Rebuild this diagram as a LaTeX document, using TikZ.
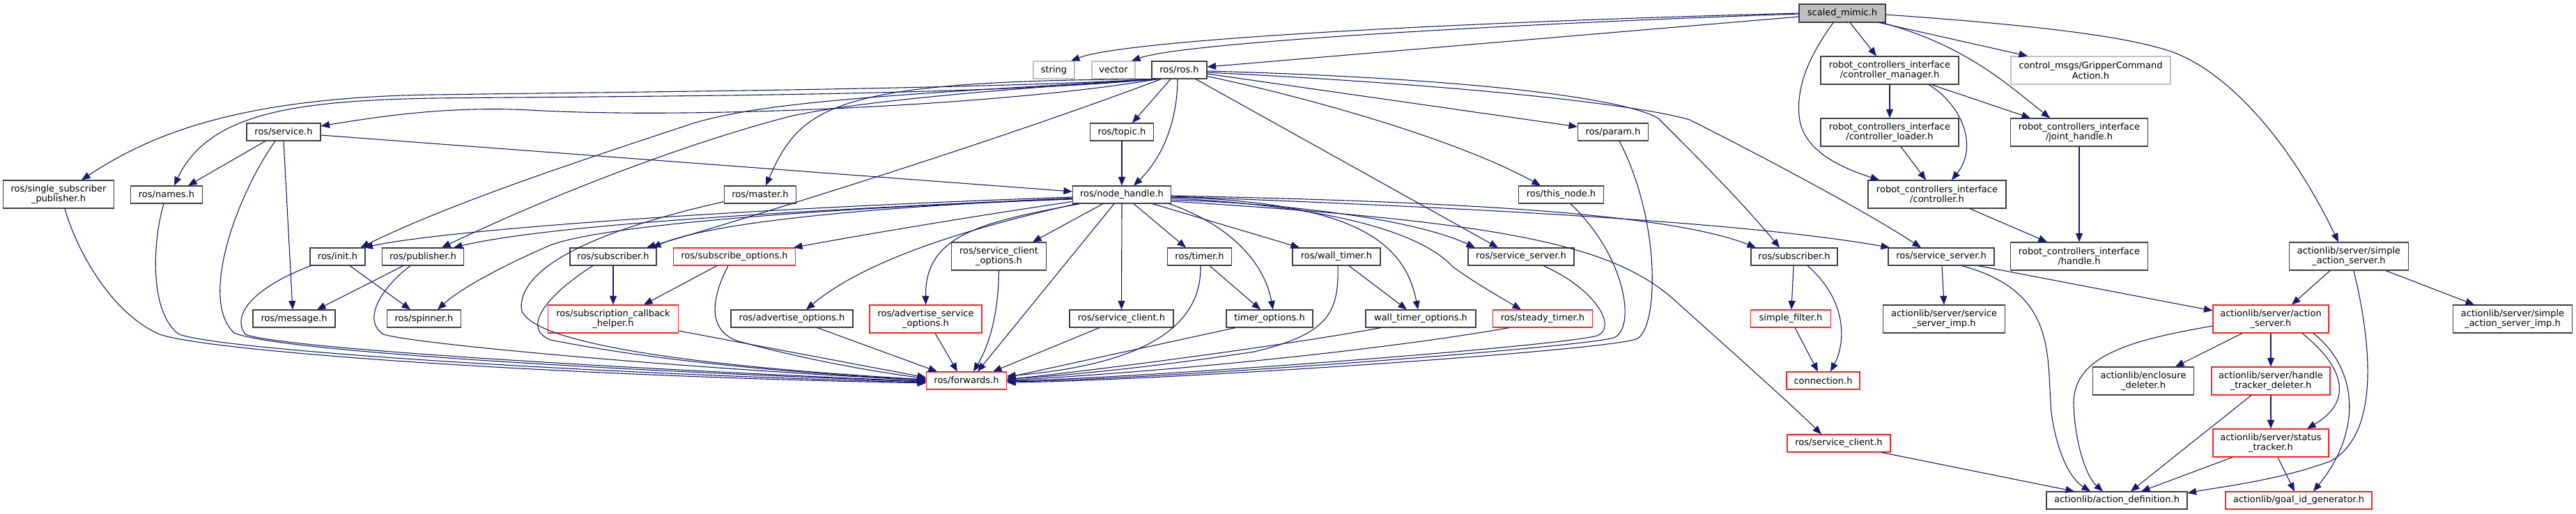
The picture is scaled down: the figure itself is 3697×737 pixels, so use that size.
\documentclass[tikz,border=0pt]{standalone}
\usepackage{fontspec}
\setmainfont{DejaVu Sans}
\usetikzlibrary{arrows.meta}
\definecolor{mblue}{HTML}{191970}
\definecolor{ngray}{HTML}{BFBFBF}
\definecolor{nborder}{HTML}{404040}
\definecolor{nred}{HTML}{FF2020}
\begin{document}
\begin{tikzpicture}[x=1pt,y=-1pt,
  box/.style={draw=nborder,line width=1.1pt,fill=white,inner sep=0pt,align=center,font=\fontsize{13}{14.5}\selectfont},
  redbox/.style={box,draw=nred},
  graybox/.style={box,draw=ngray},
  rootbox/.style={box,fill=ngray},
  sz/.style 2 args={minimum width=#1pt,minimum height=#2pt},
  edg/.style={draw=mblue,line width=1.1pt,-{Triangle[length=12.5pt,width=10pt]}}]
\useasboundingbox (0,0) rectangle (3697,737);
% nodes
\node[rootbox,sz={124}{26}] (sm) at (2644,19) {scaled\_mimic.h};
\node[graybox,sz={59}{25}] (str) at (1512.5,100.5) {string};
\node[graybox,sz={62}{25}] (vec) at (1598,100.5) {vector};
\node[box,sz={79}{25}] (ros) at (1692.5,100.5) {ros/ros.h};
\node[box,sz={198}{40}] (cm) at (2712,101) {robot\_controllers\_interface\\/controller\_manager.h};
\node[graybox,sz={229}{40}] (grip) at (3000.5,101) {control\_msgs/GripperCommand\\Action.h};
\node[box,sz={198}{40}] (cl) at (2712,190) {robot\_controllers\_interface\\/controller\_loader.h};
\node[box,sz={197}{40}] (jh) at (2984,190) {robot\_controllers\_interface\\/joint\_handle.h};
\node[box,sz={198}{40}] (ctrl) at (2780,279) {robot\_controllers\_interface\\/controller.h};
\node[box,sz={197}{40}] (hdl) at (2984,368) {robot\_controllers\_interface\\/handle.h};
\node[box,sz={106}{25}] (srv) at (407,189.5) {ros/service.h};
\node[box,sz={91}{25}] (topic) at (1610,189.5) {ros/topic.h};
\node[box,sz={101}{25}] (param) at (2315,189.5) {ros/param.h};
\node[box,sz={159}{40}] (ssp) at (84,279) {ros/single\_subscriber\\\_publisher.h};
\node[box,sz={103}{25}] (names) at (239,279.5) {ros/names.h};
\node[box,sz={103}{25}] (master) at (1091,279.5) {ros/master.h};
\node[box,sz={141}{25}] (nh) at (1610,279.5) {ros/node\_handle.h};
\node[box,sz={122}{25}] (this) at (2240.5,279.5) {ros/this\_node.h};
\node[box,sz={79}{25}] (init) at (484.5,368.5) {ros/init.h};
\node[box,sz={117}{25}] (pub) at (607,368.5) {ros/publisher.h};
\node[box,sz={124}{25}] (subL) at (880,368.5) {ros/subscriber.h};
\node[redbox,sz={175}{25}] (subopt) at (1054,368.5) {ros/subscribe\_options.h};
\node[box,sz={136}{40}] (sco) at (1433.5,368) {ros/service\_client\\\_options.h};
\node[box,sz={92}{25}] (timer) at (1721.5,368.5) {ros/timer.h};
\node[box,sz={126}{25}] (wt) at (1918,368.5) {ros/wall\_timer.h};
\node[box,sz={152}{25}] (ssL) at (2183,368.5) {ros/service\_server.h};
\node[box,sz={124}{25}] (subR) at (2575,368.5) {ros/subscriber.h};
\node[box,sz={152}{25}] (ssR) at (2786,368.5) {ros/service\_server.h};
\node[box,sz={171}{40}] (sas) at (3371,368) {actionlib/server/simple\\\_action\_server.h};
\node[box,sz={118}{25}] (msg) at (422,457.5) {ros/message.h};
\node[box,sz={106}{25}] (spin) at (608.5,457.5) {ros/spinner.h};
\node[redbox,sz={187}{40}] (cbh) at (880,458) {ros/subscription\_callback\\\_helper.h};
\node[box,sz={175}{25}] (advo) at (1136.5,457.5) {ros/advertise\_options.h};
\node[redbox,sz={161}{40}] (adso) at (1328.5,458) {ros/advertise\_service\\\_options.h};
\node[box,sz={149}{25}] (scl) at (1609.5,457.5) {ros/service\_client.h};
\node[box,sz={124}{25}] (tmo) at (1822,457.5) {timer\_options.h};
\node[box,sz={158}{25}] (wto) at (2039,457.5) {wall\_timer\_options.h};
\node[redbox,sz={143}{25}] (st) at (2214,457.5) {ros/steady\_timer.h};
\node[redbox,sz={115}{25}] (sf) at (2570,457.5) {simple\_filter.h};
\node[box,sz={175}{40}] (ssi) at (2790,458) {actionlib/server/service\\\_server\_imp.h};
\node[redbox,sz={166}{40}] (as) at (3259,458) {actionlib/server/action\\\_server.h};
\node[box,sz={171}{40}] (sasi) at (3606,458) {actionlib/server/simple\\\_action\_server\_imp.h};
\node[redbox,sz={115}{25}] (fwd) at (1387,546.5) {ros/forwards.h};
\node[redbox,sz={105}{25}] (conn) at (2616.5,546.5) {connection.h};
\node[box,sz={145}{40}] (ed) at (3076,547) {actionlib/enclosure\\\_deleter.h};
\node[redbox,sz={170}{40}] (htd) at (3259,547) {actionlib/server/handle\\\_tracker\_deleter.h};
\node[redbox,sz={148}{25}] (sclr) at (2639,636.5) {ros/service\_client.h};
\node[redbox,sz={166}{40}] (stt) at (3259,636) {actionlib/server/status\\\_tracker.h};
\node[box,sz={202}{25}] (ad) at (3038,718.5) {actionlib/action\_definition.h};
\node[redbox,sz={210}{25}] (gid) at (3299,718.5) {actionlib/goal\_id\_generator.h};
% edges from scaled_mimic.h
\draw[edg] (sm.west) .. controls (2150,30) and (1620,55) .. ([xshift=24.5pt]str.north);
\draw[edg] ([yshift=-1pt]sm.west) .. controls (2200,33) and (1700,60) .. ([xshift=26pt]vec.north);
\draw[edg] ([yshift=-5pt]sm.west) -- ([yshift=4.5pt]ros.east);
\draw[edg] ([xshift=11pt]sm.south) -- ([xshift=-19pt]cm.north);
\draw[edg] ([xshift=-13pt]sm.south) .. controls (2600,75) and (2578,120) .. (2582,165) .. controls (2585,215) and (2640,240) .. ([xshift=-83pt]ctrl.north);
\draw[edg] ([xshift=53pt]sm.south) -- ([xshift=-90.5pt]grip.north);
\draw[edg] ([xshift=57pt]sm.south) .. controls (2820,65) and (2880,120) .. ([xshift=-42pt]jh.north);
\draw[edg] ([yshift=-2pt]sm.east) .. controls (2950,38) and (3060,55) .. (3116,74) .. controls (3190,100) and (3280,190) .. ([xshift=-15pt]sas.north);
% robot_controllers_interface
\draw[edg] (cm.south) -- (cl.north);
\draw[edg] ([xshift=56pt]cm.south) .. controls (2815,150) and (2840,210) .. ([xshift=21pt]ctrl.north);
\draw[edg] ([xshift=60pt]cm.south) -- ([xshift=-70pt]jh.north);
\draw[edg] ([xshift=16pt]cl.south) -- ([xshift=-16pt]ctrl.north);
\draw[edg] ([xshift=47pt]ctrl.south) -- ([xshift=-46pt]hdl.north);
\draw[edg] (jh.south) -- (hdl.north);
% ros/ros.h
\draw[edg] ([xshift=-34pt]ros.south) .. controls (1400,128) and (900,132) .. (620,136) .. controls (350,140) and (220,190) .. ([xshift=33pt]ssp.north);
\draw[edg] ([xshift=-33pt]ros.south) .. controls (1400,138) and (900,138) .. (620,141) .. controls (430,145) and (300,160) .. ([xshift=11pt]names.north);
\draw[edg] ([xshift=-31pt]ros.south) .. controls (1450,150) and (1000,172) .. (760,158) .. controls (640,152) and (540,168) .. ([yshift=8.5pt]srv.east);
\draw[edg] ([xshift=-30pt]ros.south) .. controls (1300,135) and (1100,145) .. (995,177) .. controls (850,225) and (650,290) .. ([xshift=33pt]init.north);
\draw[edg] ([xshift=-29pt]ros.south) .. controls (1400,130) and (1220,148) .. (1134,167) .. controls (950,215) and (750,300) .. ([xshift=27pt]pub.north);
\draw[edg] ([xshift=-28pt]ros.south) .. controls (1200,115) and (1150,150) .. ([xshift=8pt]master.north);
\draw[edg] ([xshift=-26pt]ros.south) .. controls (1450,195) and (1150,290) .. ([xshift=48pt]subL.north);
\draw[edg] ([xshift=-12.5pt]ros.south) -- ([xshift=15pt]topic.north);
\draw[edg] (topic.south) -- (nh.north);
\draw[edg] ([xshift=-2.5pt]ros.south) .. controls (1690,170) and (1670,225) .. ([xshift=17pt]nh.north);
\draw[edg] ([yshift=-5.5pt]ros.east) -- ([yshift=7.5pt]param.west);
\draw[edg] ([yshift=-9pt]ros.east) .. controls (1900,145) and (2100,205) .. ([xshift=-29.5pt]this.north);
\draw[edg] ([xshift=23.5pt]ros.south) -- ([xshift=-33pt]ssL.north);
\draw[edg] ([yshift=-1.5pt]ros.east) .. controls (2100,112) and (2330,140) .. (2380,170) .. controls (2440,230) and (2500,290) .. ([xshift=-21pt]subR.north);
\draw[edg] ([yshift=-3.5pt]ros.east) .. controls (2100,122) and (2350,150) .. (2425,172) .. controls (2540,230) and (2680,305) .. ([xshift=-29pt]ssR.north);
% ros/service.h
\draw[edg] ([yshift=-4.5pt]srv.east) -- ([yshift=4.5pt]nh.west);
\draw[edg] ([xshift=-26pt]srv.south) -- ([xshift=31pt]names.north);
\draw[edg] (srv.south) -- ([xshift=-2pt]msg.north);
\draw[edg] ([xshift=-12pt]srv.south) .. controls (340,280) and (285,430) .. (336,478) .. controls (400,505) and (900,533) .. ([yshift=-1.5pt]fwd.west);
% left cluster to forwards
\draw[edg] ([xshift=9pt]ssp.south) .. controls (110,360) and (160,450) .. (229,480) .. controls (300,505) and (800,540) .. ([yshift=-3.5pt]fwd.west);
\draw[edg] ([xshift=-4pt]names.south) .. controls (218,350) and (215,450) .. (257,480) .. controls (320,503) and (850,537) .. ([yshift=-2.5pt]fwd.west);
\draw[edg] ([xshift=-38pt]init.south) .. controls (370,410) and (330,450) .. (352,480) .. controls (400,500) and (900,530) .. ([yshift=-1pt]fwd.west);
\draw[edg] ([xshift=-18pt]pub.south) .. controls (545,415) and (520,460) .. (550,480) .. controls (600,495) and (1000,530) .. ([yshift=0.5pt]fwd.west);
\draw[edg] ([xshift=-28pt]pub.south) -- ([xshift=33pt]msg.north);
\draw[edg] ([xshift=17.5pt]init.south) -- ([xshift=-19.5pt]spin.north);
\draw[edg] ([yshift=-10pt]master.west) .. controls (860,330) and (750,380) .. (748,440) .. controls (746,480) and (900,520) .. ([yshift=1.5pt]fwd.west);
% ros/node_handle.h
\draw[edg] ([yshift=-3.5pt]nh.west) .. controls (1100,298) and (650,328) .. ([xshift=38pt]init.north);
\draw[edg] ([yshift=-5pt]nh.west) .. controls (1200,300) and (800,320) .. ([xshift=44pt]pub.north);
\draw[edg] ([yshift=-6.5pt]nh.west) .. controls (1150,300) and (860,325) .. (790,352) .. controls (720,382) and (660,415) .. ([xshift=19.5pt]spin.north);
\draw[edg] ([yshift=-5.5pt]nh.west) .. controls (1300,295) and (1030,315) .. ([xshift=56pt]subL.north);
\draw[edg] ([yshift=-10pt]nh.west) .. controls (1400,310) and (1250,335) .. ([xshift=85pt]subopt.north);
\draw[edg] ([xshift=-65pt]nh.south) .. controls (1380,330) and (1240,375) .. ([xshift=20.5pt]advo.north);
\draw[edg] ([xshift=-60pt]nh.south) .. controls (1400,320) and (1328,340) .. (adso.north);
\draw[edg] ([xshift=-27pt]nh.south) -- ([xshift=48.5pt]sco.north);
\draw[edg] ([xshift=-11pt]nh.south) -- ([xshift=16pt]fwd.north);
\draw[edg] (nh.south) -- (scl.north);
\draw[edg] ([xshift=17pt]nh.south) -- ([xshift=-19.5pt]timer.north);
\draw[edg] ([xshift=68pt]nh.south) .. controls (1770,325) and (1815,380) .. ([xshift=5pt]tmo.north);
\draw[edg] ([xshift=44pt]nh.south) -- ([xshift=-53pt]wt.north);
\draw[edg] ([yshift=-3.5pt]nh.east) .. controls (1930,290) and (2015,340) .. ([xshift=-4pt]wto.north);
\draw[edg] ([yshift=-5pt]nh.east) .. controls (1950,298) and (2050,345) .. (2085,383) .. controls (2115,405) and (2150,425) .. ([xshift=-31pt]st.north);
\draw[edg] ([yshift=-7.5pt]nh.east) .. controls (1850,292) and (2030,315) .. ([xshift=-66pt]ssL.north);
\draw[edg] ([yshift=-1.5pt]nh.east) .. controls (2000,288) and (2380,300) .. ([xshift=-55pt]subR.north);
\draw[edg] ([yshift=-2.5pt]nh.east) .. controls (2100,298) and (2500,318) .. ([xshift=-74pt]ssR.north);
\draw[edg] ([yshift=-9.5pt]nh.east) .. controls (2150,318) and (2310,350) .. (2400,428) .. controls (2480,500) and (2570,580) .. ([xshift=-25pt]sclr.north);
% second level
\draw[edg] (subL.south) -- (cbh.north);
\draw[edg] ([xshift=-25pt]subopt.south) -- ([xshift=44pt]cbh.north);
\draw[edg] ([xshift=-29pt]subL.south) .. controls (790,420) and (745,470) .. (790,488) .. controls (950,520) and (1150,536) .. ([yshift=1pt]fwd.west);
\draw[edg] ([xshift=-9pt]subopt.south) .. controls (1020,430) and (1015,475) .. (1060,490) .. controls (1150,515) and (1250,533) .. ([yshift=3pt]fwd.west);
\draw[edg] ([yshift=-17pt]cbh.east) -- ([yshift=4.5pt]fwd.west);
\draw[edg] ([xshift=36.5pt]advo.south) -- ([xshift=-42pt]fwd.north);
\draw[edg] ([xshift=13.5pt]adso.south) -- ([xshift=-13pt]fwd.north);
\draw[edg] (sco.south) .. controls (1433,450) and (1420,495) .. ([xshift=10pt]fwd.north);
\draw[edg] ([xshift=-31.5pt]scl.south) -- ([xshift=38pt]fwd.north);
\draw[edg] ([xshift=14.5pt]timer.south) -- ([xshift=-13pt]tmo.north);
\draw[edg] ([xshift=1.5pt]timer.south) .. controls (1725,480) and (1620,525) .. ([yshift=6.5pt]fwd.east);
\draw[edg] ([xshift=-49pt]tmo.south) -- ([yshift=4.5pt]fwd.east);
\draw[edg] ([xshift=18pt]wt.south) -- ([xshift=-20pt]wto.north);
\draw[edg] ([xshift=2pt]wt.south) .. controls (1922,450) and (1905,480) .. (1800,505) .. controls (1650,528) and (1520,540) .. ([yshift=2.5pt]fwd.east);
\draw[edg] ([xshift=-57pt]wto.south) .. controls (1850,495) and (1600,528) .. ([yshift=1.5pt]fwd.east);
\draw[edg] ([xshift=-48pt]st.south) .. controls (2000,500) and (1700,532) .. ([yshift=0.5pt]fwd.east);
\draw[edg] ([xshift=32pt]ssL.south) .. controls (2290,415) and (2322,470) .. (2292,482) .. controls (2240,497) and (1650,542) .. ([yshift=-0.5pt]fwd.east);
\draw[edg] ([xshift=13.5pt]this.south) .. controls (2335,370) and (2348,472) .. (2316,485) .. controls (2260,500) and (1650,545) .. ([yshift=-1.5pt]fwd.east);
\draw[edg] ([xshift=9pt]param.south) .. controls (2385,320) and (2380,475) .. (2348,487) .. controls (2290,505) and (1650,547) .. ([yshift=-2.5pt]fwd.east);
% right part
\draw[edg] ([xshift=-1pt]subR.south) -- ([xshift=1pt]sf.north);
\draw[edg] ([xshift=19pt]subR.south) .. controls (2650,430) and (2650,490) .. ([xshift=10.5pt]conn.north);
\draw[edg] ([xshift=6pt]sf.south) -- ([xshift=-7.5pt]conn.north);
\draw[edg] ([xshift=1pt]ssR.south) -- (ssi.north);
\draw[edg] ([xshift=29pt]ssR.south) .. controls (2960,420) and (2935,520) .. (2945,600) .. controls (2955,660) and (2975,690) .. ([xshift=-38pt]ad.north);
\draw[edg] ([xshift=53pt]ssR.south) -- ([yshift=12pt]as.west);
\draw[edg] ([xshift=61pt]sclr.south) -- ([xshift=-61pt]ad.north);
\draw[edg] ([xshift=-27pt]sas.south) -- ([xshift=30pt]as.north);
\draw[edg] ([xshift=53pt]sas.south) -- ([xshift=-55pt]sasi.north);
\draw[edg] ([xshift=7pt]sas.south) .. controls (3400,480) and (3420,620) .. (3345,662) .. controls (3270,690) and (3180,700) .. ([yshift=10.5pt]ad.east);
\draw[edg] ([xshift=-41pt]as.south) -- ([xshift=46pt]ed.north);
\draw[edg] (as.south) -- (htd.north);
\draw[edg] ([xshift=45pt]as.south) .. controls (3362,525) and (3380,575) .. ([xshift=52pt]stt.north);
\draw[edg] ([xshift=61pt]as.south) .. controls (3385,530) and (3390,620) .. ([xshift=21pt]gid.north);
\draw[edg] ([yshift=-10pt]as.west) .. controls (3060,488) and (2975,510) .. (2976,580) .. controls (2978,640) and (2995,685) .. ([xshift=-20pt]ad.north);
\draw[edg] (htd.south) -- (stt.north);
\draw[edg] ([xshift=-28pt]htd.south) -- ([xshift=20pt]ad.north);
\draw[edg] ([xshift=-55pt]stt.south) -- ([xshift=35pt]ad.north);
\draw[edg] ([xshift=10pt]stt.south) -- ([xshift=-6pt]gid.north);
\end{tikzpicture}
\end{document}
